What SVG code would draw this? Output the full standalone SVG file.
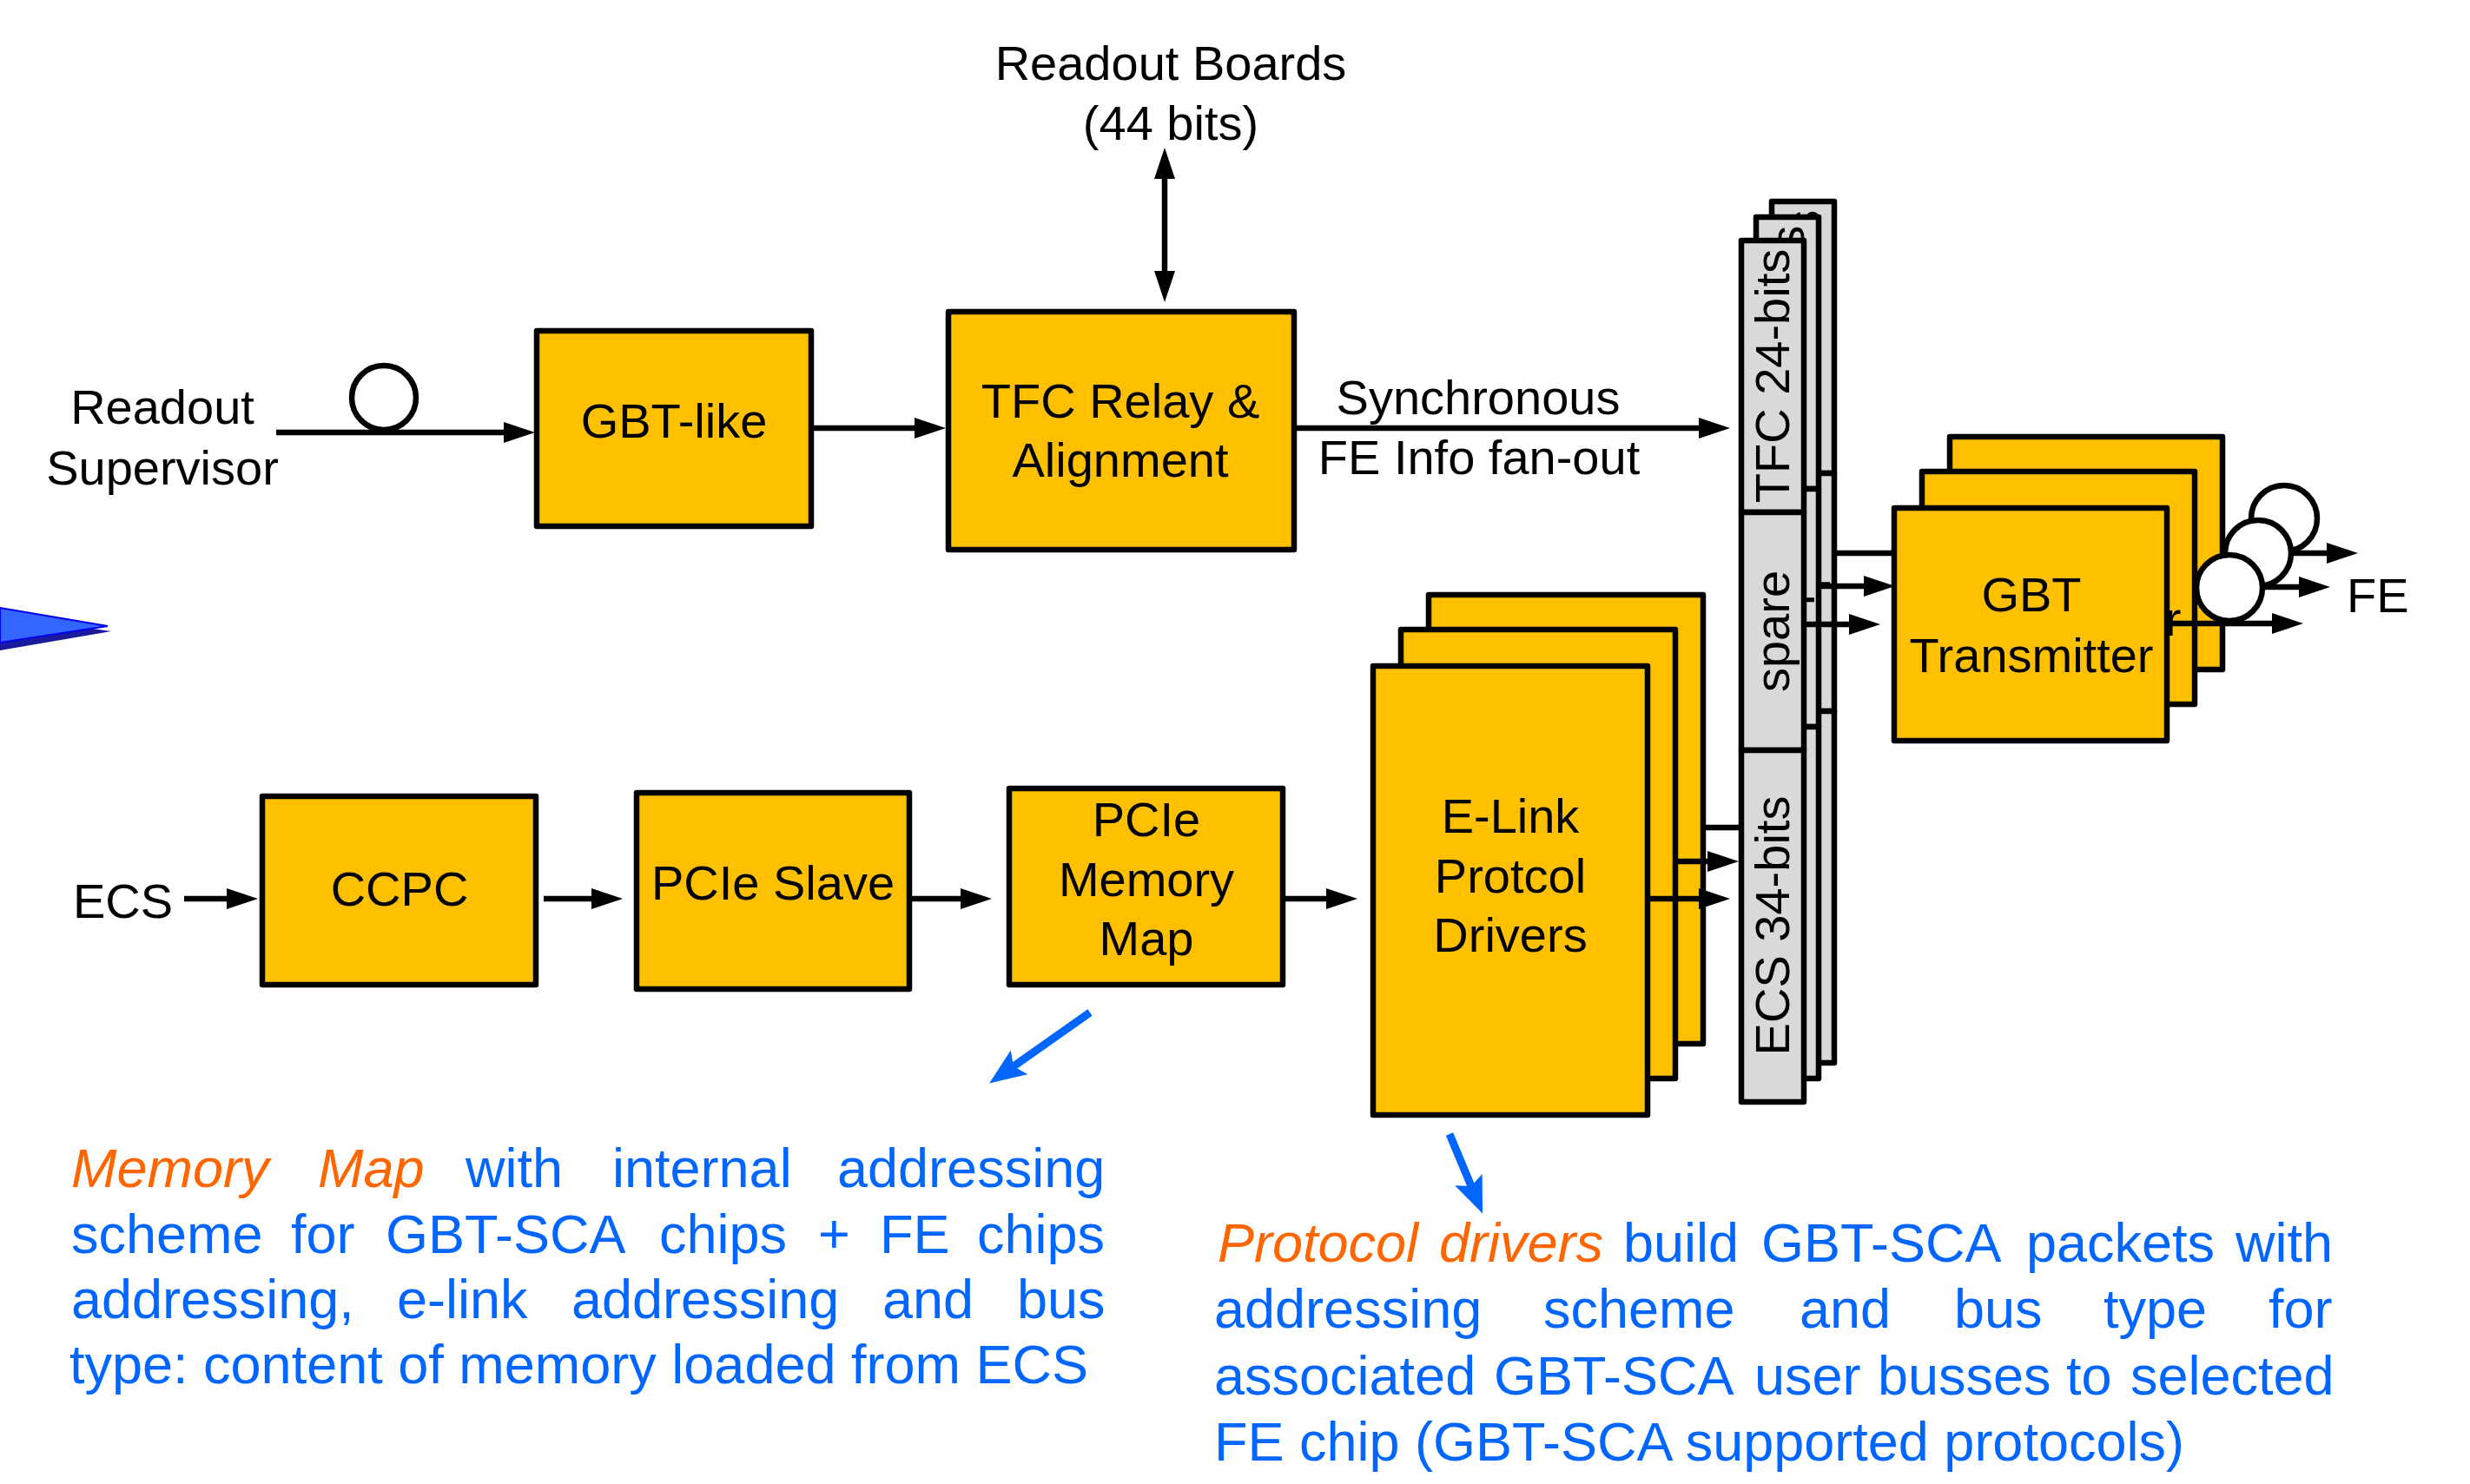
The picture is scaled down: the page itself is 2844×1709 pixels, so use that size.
<svg xmlns="http://www.w3.org/2000/svg" width="2844" height="1709" viewBox="0 0 2844 1709">
  <defs>
    <style>
      .box{fill:#FFC000;stroke:#000;stroke-width:6.5;stroke-linejoin:round}
      .bus{fill:#D9D9D9;stroke:#000;stroke-width:6.5;stroke-linejoin:round}
      .lbl{font-family:"Liberation Sans",Arial,sans-serif;font-size:56px;fill:#000}
      .mid{text-anchor:middle}
      .wire{stroke:#000;stroke-width:6.5;fill:none}
      .fib{fill:#fff;stroke:#000;stroke-width:6.5}
      .note{font-family:"Liberation Sans",Arial,sans-serif;font-size:63px;fill:#0066FF}
      .hl{fill:#FF6600;font-style:italic}
      .ptr{stroke:#0066FF;stroke-width:9;fill:none}
    </style>
    <marker id="ah" viewBox="0 0 36 24" refX="6" refY="12" markerWidth="36" markerHeight="24" markerUnits="userSpaceOnUse" orient="auto-start-reverse">
      <path d="M0,0 L36,12 L0,24 Z" fill="#000"/>
    </marker>
    <marker id="bh" viewBox="0 0 42 34" refX="8" refY="17" markerWidth="42" markerHeight="34" markerUnits="userSpaceOnUse" orient="auto">
      <path d="M0,0 L42,17 L0,34 L8,17 Z" fill="#0066FF"/>
    </marker>
  </defs>

  <rect width="2844" height="1709" fill="#fff"/>

  <!-- blue pointer cut at the left edge -->
  <polygon points="0,709 128,727 0,749" fill="#1a1a9c"/>
  <polygon points="0,700 124,721 0,740" fill="#3366FF" stroke="#0000EE" stroke-width="2"/>

  <!-- ===== upper path: TFC ===== -->
  <g id="readout-supervisor">
    <text class="lbl mid" x="187" y="488">Readout</text>
    <text class="lbl mid" x="187" y="558">Supervisor</text>
  </g>

  <g id="gbt-like">
    <rect class="box" x="618" y="381" width="316" height="225"/>
    <text class="lbl mid" x="776" y="504">GBT-like</text>
  </g>

  <g id="tfc-relay">
    <rect class="box" x="1092" y="359" width="398" height="274"/>
    <text class="lbl mid" x="1290" y="481">TFC Relay &amp;</text>
    <text class="lbl mid" x="1290" y="549">Alignment</text>
  </g>

  <g id="readout-boards">
    <text class="lbl mid" x="1348" y="92">Readout Boards</text>
    <text class="lbl mid" x="1348" y="161">(44 bits)</text>
  </g>

  <g id="sync-label">
    <text class="lbl mid" x="1702" y="477">Synchronous</text>
    <text class="lbl mid" x="1703" y="546">FE Info fan-out</text>
  </g>

  <!-- ===== lower path: ECS ===== -->
  <g id="ecs">
    <text class="lbl" x="84" y="1057">ECS</text>
  </g>

  <g id="ccpc">
    <rect class="box" x="302" y="917" width="315" height="217"/>
    <text class="lbl mid" x="460" y="1043">CCPC</text>
  </g>

  <g id="pcie-slave">
    <rect class="box" x="733" y="913" width="314" height="226"/>
    <text class="lbl mid" x="890" y="1036">PCIe Slave</text>
  </g>

  <g id="pcie-memory-map">
    <rect class="box" x="1162" y="908" width="315" height="226"/>
    <text class="lbl mid" x="1320" y="963">PCIe</text>
    <text class="lbl mid" x="1320" y="1032">Memory</text>
    <text class="lbl mid" x="1320" y="1100">Map</text>
  </g>

  <!-- E-Link driver stack: back, middle, front -->
  <g id="elink-drivers">
    <rect class="box" x="1645" y="685" width="316" height="517"/>
    <rect class="box" x="1613" y="725" width="316" height="517"/>
    <rect class="box" x="1581" y="767" width="316" height="517"/>
    <text class="lbl mid" x="1739" y="959">E-Link</text>
    <text class="lbl mid" x="1739" y="1028">Protcol</text>
    <text class="lbl mid" x="1739" y="1096">Drivers</text>
  </g>

  <!-- GBT frame bus stack: back, middle, front -->
  <g id="gbt-frame">
    <g transform="translate(35,-45)">
      <rect class="bus" x="2005" y="277" width="72" height="313"/>
      <rect class="bus" x="2005" y="590" width="72" height="274"/>
      <rect class="bus" x="2005" y="864" width="72" height="405"/>
      <text class="lbl mid" transform="translate(2060,433) rotate(-90)">TFC 24-bits</text>
      <text class="lbl mid" transform="translate(2060,682) rotate(-90)">spare</text>
    </g>
    <g transform="translate(17,-27)">
      <rect class="bus" x="2005" y="277" width="72" height="313"/>
      <rect class="bus" x="2005" y="590" width="72" height="274"/>
      <rect class="bus" x="2005" y="864" width="72" height="405"/>
      <text class="lbl mid" transform="translate(2060,433) rotate(-90)">TFC 24-bits</text>
      <text class="lbl mid" transform="translate(2060,682) rotate(-90)">spare</text>
    </g>
    <rect class="bus" x="2005" y="277" width="72" height="313"/>
    <rect class="bus" x="2005" y="590" width="72" height="274"/>
    <rect class="bus" x="2005" y="864" width="72" height="405"/>
    <text class="lbl mid" transform="translate(2060,433) rotate(-90)">TFC 24-bits</text>
    <text class="lbl mid" transform="translate(2060,727) rotate(-90)">spare</text>
    <text class="lbl mid" transform="translate(2060,1066) rotate(-90)">ECS 34-bits</text>
  </g>

  <!-- GBT transmitter stack: back, middle, front -->
  <g id="gbt-transmitter">
    <rect class="box" x="2245" y="503" width="314" height="268"/>
    <rect class="box" x="2213" y="543" width="314" height="268"/>
    <text class="lbl mid" x="2371" y="732">Transmitter</text>
    <rect class="box" x="2181" y="585" width="314" height="268"/>
    <text class="lbl mid" x="2339" y="704">GBT</text>
    <text class="lbl mid" x="2339" y="774">Transmitter</text>
  </g>

  <g id="fe">
    <text class="lbl" x="2702" y="705">FE</text>
  </g>

  <!-- ===== connectors ===== -->
  <g id="connectors">
    <path class="wire" d="M318,498 H586" marker-end="url(#ah)"/>
    <path class="wire" d="M934,493 H1059" marker-end="url(#ah)"/>
    <path class="wire" d="M1490,493 H1962" marker-end="url(#ah)"/>
    <path class="wire" d="M1341,200 V318" marker-start="url(#ah)" marker-end="url(#ah)"/>

    <path class="wire" d="M212,1035 H267" marker-end="url(#ah)"/>
    <path class="wire" d="M626,1035 H687" marker-end="url(#ah)"/>
    <path class="wire" d="M1047,1035 H1112" marker-end="url(#ah)"/>
    <path class="wire" d="M1477,1035 H1533" marker-end="url(#ah)"/>

    <path class="wire" d="M1961,953 H2003"/>
    <path class="wire" d="M1929,992 H1972" marker-end="url(#ah)"/>
    <path class="wire" d="M1897,1035 H1962" marker-end="url(#ah)"/>

    <path class="wire" d="M2112,637 H2181"/>
    <path class="wire" d="M2094,675 H2152" marker-end="url(#ah)"/>
    <path class="wire" d="M2077,719 H2135" marker-end="url(#ah)"/>

    <path class="wire" d="M2559,637 H2685" marker-end="url(#ah)"/>
    <path class="wire" d="M2527,676 H2653" marker-end="url(#ah)"/>
    <path class="wire" d="M2495,718 H2622" marker-end="url(#ah)"/>

    <path class="ptr" d="M1255,1166 L1167,1228" marker-end="url(#bh)"/>
    <path class="ptr" d="M1669,1306 L1694,1366" marker-end="url(#bh)"/>
  </g>

  <!-- optical fibre loops -->
  <g id="fibres">
    <circle class="fib" cx="442" cy="458" r="37"/>
    <circle class="fib" cx="2630" cy="597" r="38"/>
    <circle class="fib" cx="2600" cy="637" r="38"/>
    <circle class="fib" cx="2567" cy="677" r="38"/>
  </g>

  <!-- ===== notes ===== -->
  <g id="memory-map-note">
    <text class="note">
      <tspan class="hl" x="82" y="1367">Memory</tspan><tspan class="hl" x="366" y="1367">Map</tspan><tspan x="536" y="1367">with</tspan><tspan x="705" y="1367">internal</tspan><tspan x="964" y="1367">addressing</tspan>
      <tspan x="82" y="1443">scheme</tspan><tspan x="335" y="1443">for</tspan><tspan x="444" y="1443">GBT-SCA</tspan><tspan x="759" y="1443">chips</tspan><tspan x="942" y="1443">+</tspan><tspan x="1013" y="1443">FE</tspan><tspan x="1125" y="1443">chips</tspan>
      <tspan x="82" y="1518">addressing,</tspan><tspan x="457" y="1518">e-link</tspan><tspan x="658" y="1518">addressing</tspan><tspan x="1016" y="1518">and</tspan><tspan x="1171" y="1518">bus</tspan>
      <tspan x="80" y="1593">type: content of memory loaded from ECS</tspan>
    </text>
  </g>

  <g id="protocol-drivers-note">
    <text class="note">
      <tspan class="hl" x="1402" y="1453">Protocol</tspan><tspan class="hl" x="1657" y="1453">drivers</tspan><tspan x="1869" y="1453">build</tspan><tspan x="2028" y="1453">GBT-SCA</tspan><tspan x="2333" y="1453">packets</tspan><tspan x="2574" y="1453">with</tspan>
      <tspan x="1398" y="1529">addressing</tspan><tspan x="1777" y="1529">scheme</tspan><tspan x="2072" y="1529">and</tspan><tspan x="2250" y="1529">bus</tspan><tspan x="2422" y="1529">type</tspan><tspan x="2612" y="1529">for</tspan>
      <tspan x="1398" y="1606">associated</tspan><tspan x="1720" y="1606">GBT-SCA</tspan><tspan x="2020" y="1606">user</tspan><tspan x="2162" y="1606">busses</tspan><tspan x="2379" y="1606">to</tspan><tspan x="2453" y="1606">selected</tspan>
      <tspan x="1398" y="1682">FE chip (GBT-SCA supported protocols)</tspan>
    </text>
  </g>
</svg>
